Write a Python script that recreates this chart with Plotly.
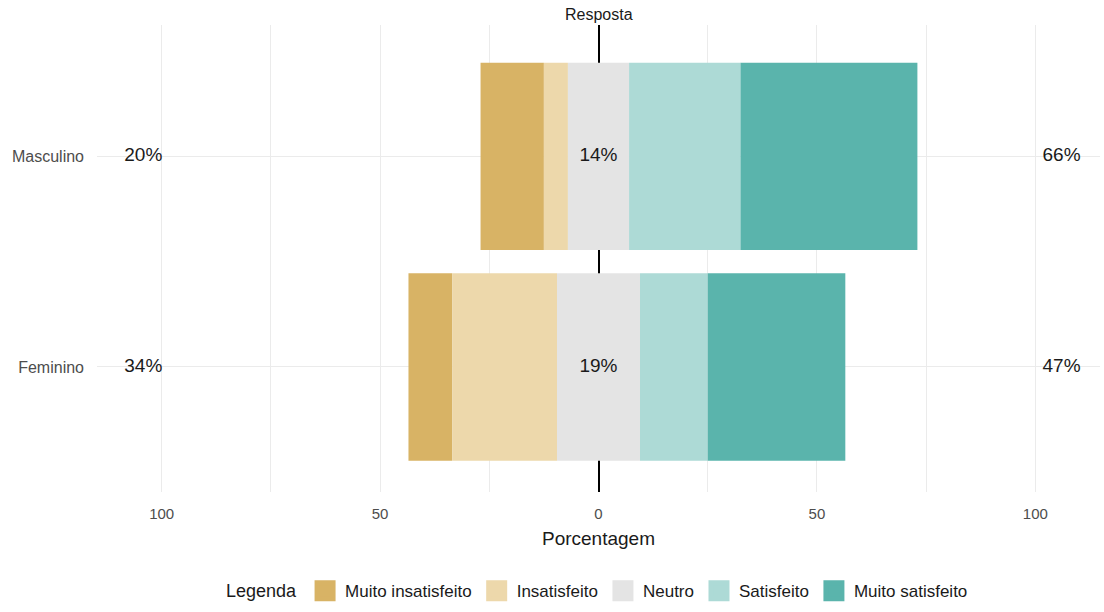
import numpy as np
import plotly.graph_objects as go

categories = ["Feminino", "Masculino"]
levels = ["Muito insatisfeito", "Insatisfeito", "Neutro", "Satisfeito", "Muito satisfeito"]
muito_insatisfeito = [10.0, 14.5]
insatisfeito = [24.0, 5.5]
neutro = [19.0, 14.0]
satisfeito = [15.5, 25.5]
muito_satisfeito = [31.5, 40.5]
colors = ["#D8B365", "#EDD8AB", "#E4E4E4", "#ADDAD6", "#5AB4AC"]
tick_vals = [-100, -50, 0, 50, 100]
tick_text = ["100", "50", "0", "50", "100"]

FONT = "Liberation Sans, Arial, sans-serif"

series = [np.array(v) for v in [muito_insatisfeito, insatisfeito, neutro, satisfeito, muito_satisfeito]]
neg_total = series[0] + series[1]
pos_total = series[3] + series[4]
start = -(neg_total + series[2] / 2)

fig = go.Figure()
base = start.copy()
for name, vals, col in zip(levels, series, colors):
    fig.add_trace(go.Bar(
        y=categories, x=vals, base=base, orientation="h", name=name,
        marker=dict(color=col, line=dict(width=0)), width=0.89,
        showlegend=False, hoverinfo="skip"))
    base = base + vals

# legend entries
for name, col in zip(levels, colors):
    fig.add_trace(go.Scatter(
        x=[None], y=[None], mode="markers", name=name,
        marker=dict(symbol="square", size=16, color=col,
                    line=dict(color=col, width=5))))

font_txt = dict(family=FONT, size=19, color="#1A1A1A")
fig.add_trace(go.Scatter(
    x=[-104.2] * 2, y=categories, mode="text", showlegend=False,
    text=[f"{v:.0f}%" for v in neg_total], textfont=font_txt, hoverinfo="skip"))
fig.add_trace(go.Scatter(
    x=[0] * 2, y=categories, mode="text", showlegend=False,
    text=[f"{v:.0f}%" for v in series[2]], textfont=font_txt, hoverinfo="skip"))
fig.add_trace(go.Scatter(
    x=[106] * 2, y=categories, mode="text", showlegend=False,
    text=[f"{v:.0f}%" for v in pos_total], textfont=font_txt, hoverinfo="skip"))

fig.add_annotation(text="Resposta", xref="x", yref="paper", x=0, y=1.0,
                   yanchor="bottom", showarrow=False, yshift=0,
                   font=dict(family=FONT, size=16, color="#1A1A1A"))

fig.update_layout(
    width=1104, height=612,
    margin=dict(l=97, r=4, t=25, b=119),
    paper_bgcolor="white", plot_bgcolor="white",
    barmode="overlay", bargap=0.1,
    font=dict(family=FONT, size=15, color="#4D4D4D"),
    xaxis=dict(range=[-114.8, 114.8], tickvals=tick_vals, ticktext=tick_text,
               showgrid=True, gridcolor="#EBEBEB", gridwidth=1,
               zeroline=True, zerolinecolor="#000000", zerolinewidth=1.5,
               ticks="", tickfont=dict(family=FONT, size=15, color="#4D4D4D"),
               ticklabelstandoff=11,
               minor=dict(dtick=25, tick0=0, showgrid=True, gridcolor="#EBEBEB", gridwidth=1),
               title=dict(text="Porcentagem", font=dict(family=FONT, size=19, color="#1A1A1A"),
                          standoff=10)),
    yaxis=dict(range=[-0.594, 1.624], showgrid=True, gridcolor="#EBEBEB", gridwidth=1,
               zeroline=False, ticks="", ticklabelstandoff=12,
               tickfont=dict(family=FONT, size=16, color="#4D4D4D"), categoryorder="array",
               categoryarray=categories),
    legend=dict(orientation="h", x=0.5, xanchor="center", y=-0.21, yanchor="middle",
                title=dict(text="Legenda", font=dict(family=FONT, size=18, color="#1A1A1A")),
                font=dict(family=FONT, size=17, color="#1A1A1A"),
                traceorder="normal"),
)

fig.write_html("out.html", config={"displayModeBar": False},
               post_script="document.body.style.margin='0px';")
